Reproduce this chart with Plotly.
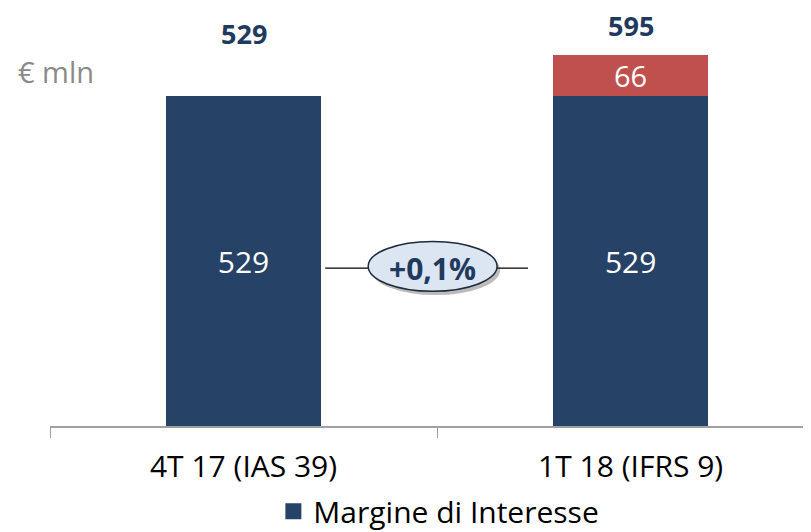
import plotly.graph_objects as go

categories = ["4T 17 (IAS 39)", "1T 18 (IFRS 9)"]
margine = [529, 529]
ifrs9_effect = [0, 66]
totals = [529, 595]
delta_label = "+0,1%"
unit_label = "€ mln"
legend_name = "Margine di Interesse"

BLUE = "#264266"
RED = "#C0504D"
FONT = "Open Sans"

fig = go.Figure()
fig.add_trace(go.Bar(
    x=categories, y=margine, name=legend_name, showlegend=False,
    marker=dict(color=BLUE, line=dict(width=0)),
    text=[str(v) for v in margine], textposition="inside",
    insidetextanchor="middle", textangle=0, constraintext="none",
    textfont=dict(color="white", size=30, family=FONT),
    width=0.4,
))
fig.add_trace(go.Bar(
    x=categories, y=[v if v else None for v in ifrs9_effect], name="IFRS 9",
    marker=dict(color=RED, line=dict(width=0)),
    text=[str(v) if v else "" for v in ifrs9_effect], textposition="inside",
    insidetextanchor="middle", textangle=0, constraintext="none",
    textfont=dict(color="white", size=29, family=FONT),
    width=0.4, showlegend=False,
))
# legend entry
fig.add_trace(go.Scatter(
    x=[None], y=[None], mode="markers", name=legend_name,
    marker=dict(symbol="square", size=16, color=BLUE),
))

# totals
shifts = [63, 29]
for i, (c, t) in enumerate(zip(categories, totals)):
    fig.add_annotation(x=c, y=t, text=f"<b>{t}</b>", showarrow=False,
                       yanchor="middle", yshift=shifts[i],
                       font=dict(size=27, color="#1F3A5F", family=FONT))

# connector line and ellipse
yc = 256
fig.add_shape(type="line", xref="x", yref="y", x0=0.211, x1=0.735, y0=yc - 3, y1=yc - 3,
              line=dict(color="black", width=1.2))
fig.add_shape(type="circle", xref="x", yref="y", x0=0.330, x1=0.663,
              y0=yc - 46, y1=yc + 34, fillcolor="rgba(60,60,60,0.35)",
              line=dict(width=0))
fig.add_shape(type="circle", xref="x", yref="y", x0=0.322, x1=0.655,
              y0=yc - 40, y1=yc + 40, fillcolor="#DCE6F2",
              line=dict(color="#1F2A3A", width=1.5))
fig.add_annotation(x=0.488, y=yc - 3, xref="x", yref="y", text=f"<b>{delta_label}</b>",
                   showarrow=False, font=dict(size=30, color="#1F3A5F", family=FONT))

fig.add_annotation(x=-0.045, y=0.851, xref="paper", yref="paper", text=unit_label,
                   showarrow=False, xanchor="left", yanchor="middle",
                   font=dict(size=29, color="#8A8A8A", family=FONT))

fig.update_layout(
    barmode="stack",
    width=803, height=524,
    margin=dict(l=42, r=0, t=2, b=106, autoexpand=False),
    plot_bgcolor="white", paper_bgcolor="white",
    font=dict(family=FONT),
    showlegend=True,
    legend=dict(orientation="h", x=0.511, xanchor="center", y=-0.205, yanchor="middle",
                font=dict(size=30, color="black", family=FONT),
                itemwidth=30, traceorder="normal"),
    xaxis=dict(type="category", range=[-0.5, 1.466], tickson="boundaries",
               ticks="outside", ticklen=10, tickcolor="#A0A0A0", automargin=False,
               showline=True, linecolor="#A0A0A0", linewidth=1.5,
               ticklabelstandoff=13,
               tickfont=dict(size=30, color="black", family=FONT),
               showgrid=False),
    yaxis=dict(range=[0, 667], visible=False, showgrid=False, automargin=False),
)
fig.write_html("out.html")
